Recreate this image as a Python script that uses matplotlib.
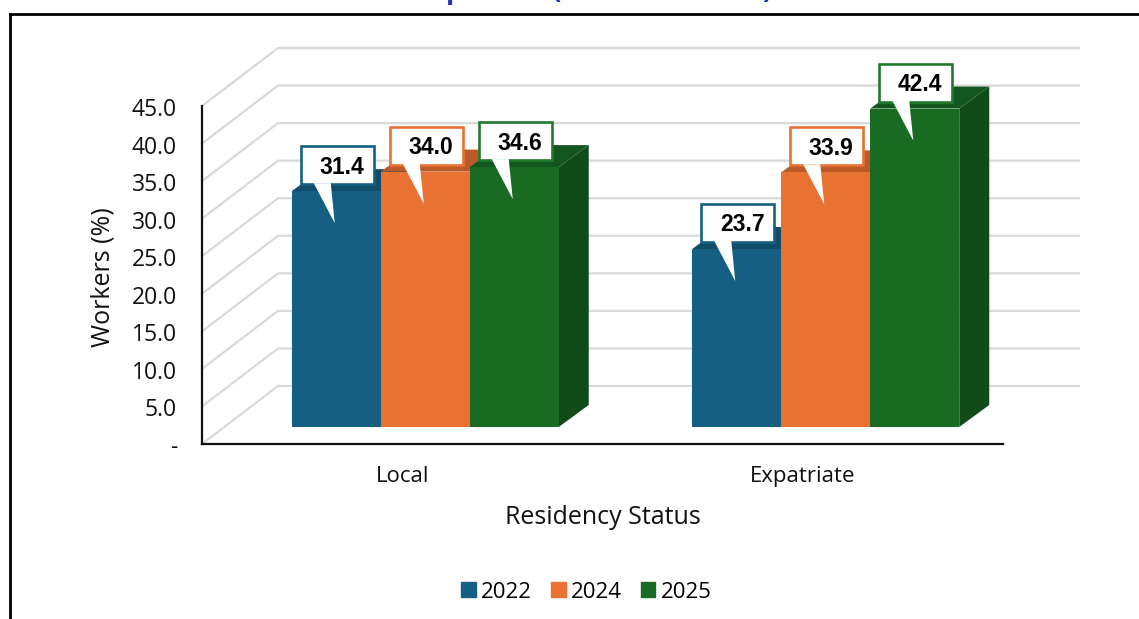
import matplotlib
matplotlib.use("Agg")
from matplotlib import pyplot as plt
from matplotlib.lines import Line2D
from matplotlib.patches import Patch, Polygon
from matplotlib.transforms import Affine2D

categories = ["Local", "Expatriate"]
years = ["2022", "2024", "2025"]
values_2022 = [31.4, 23.7]
values_2024 = [34.0, 33.9]
values_2025 = [34.6, 42.4]
y_ticks = [0, 5, 10, 15, 20, 25, 30, 35, 40, 45]
y_tick_labels = ["-", "5.0", "10.0", "15.0", "20.0", "25.0", "30.0", "35.0", "40.0", "45.0"]

W, H = 1139, 619
FONT = "Open Sans"
FRONT = ["#156082", "#E97132", "#196B24"]
TOP = ["#114D68", "#BA5A28", "#145620"]
SIDE = ["#0F435B", "#A34F23", "#114B19"]
BORDER = ["#156082", "#E97132", "#217A2E"]

# wall depth and bar placement, in axis units (axis spans 801 x 338 px)
WALL_DX, WALL_DY = 76 / 400.5, 58 / 7.51
BAR_DX, BAR_DY = 23 / 400.5, 17 / 7.51
DEPTH_DX, DEPTH_DY = 30 / 400.5, 22 / 7.51
BAR_W = 89 / 400.5


def px(x, y):
    return x / W, 1 - y / H


def main():
    fig = plt.figure(figsize=(W / 100, H / 100), dpi=100)
    ax = fig.add_axes([202 / W, 1 - 444 / H, 801 / W, 338 / H])
    ax.set_xlim(0, 2)
    ax.set_ylim(0, 45)

    # outer frame, runs off the picture
    fig.add_artist(Line2D([10 / W, 10 / W], [0, 1 - 14 / H], color="black", lw=2))
    fig.add_artist(Line2D([10 / W, 1], [1 - 14 / H, 1 - 14 / H], color="black", lw=2))

    # what is left of the title, cut by the top edge
    for ch, x in [("p", 455), ("(", 557), (")", 767)]:
        fig.text(*px(x, -2), ch, color="#2233C4", fontsize=20, fontweight="bold",
                 family=FONT, ha="center", va="baseline")

    # floor and back wall gridlines
    for t in y_ticks:
        ax.plot([0, WALL_DX, 2 + WALL_DX], [t, t + WALL_DY, t + WALL_DY],
                color="#D9D9D9", lw=1.6, clip_on=False, zorder=1)

    series = [values_2022, values_2024, values_2025]
    for i, vals in enumerate(series):
        for j, v in enumerate(vals):
            left = j + 0.5 + BAR_DX - 1.5 * BAR_W + i * BAR_W
            right = left + BAR_W
            bottom = BAR_DY
            top = bottom + v
            z = 3 + i
            ax.fill([right, right + DEPTH_DX, right + DEPTH_DX, right],
                    [bottom, bottom + DEPTH_DY, top + DEPTH_DY, top],
                    color=SIDE[i], lw=0, clip_on=False, zorder=z)
            ax.fill([left, left + DEPTH_DX, right + DEPTH_DX, right],
                    [top, top + DEPTH_DY, top + DEPTH_DY, top],
                    color=TOP[i], lw=0, clip_on=False, zorder=z)
            ax.bar(left, v, BAR_W, bottom=bottom, align="edge", color=FRONT[i],
                   clip_on=False, zorder=z)

    # callouts go above all bars, shapes given in px from the bar's top left
    box = [(9, 45), (82, 45), (82, 7), (9, 7)]
    tail = [(22, 8), (39, 8), (43, -32)]
    for i, vals in enumerate(series):
        for j, v in enumerate(vals):
            left = j + 0.5 + BAR_DX - 1.5 * BAR_W + i * BAR_W
            ax_x, ax_y = ax.transData.transform((left, BAR_DY + v))
            tr = Affine2D().translate(ax_x, ax_y)
            fig.add_artist(Polygon(box, closed=True, facecolor="white",
                                   edgecolor=BORDER[i], lw=1.9, joinstyle="miter",
                                   transform=tr, zorder=10))
            fig.add_artist(Polygon(tail, closed=True, facecolor="white",
                                   edgecolor="none", transform=tr, zorder=10.5))
            fig.text((ax_x + 50) / W, (ax_y + 24) / H, "%.1f" % v, color="black",
                     fontsize=16.5, fontweight="bold", family="Liberation Sans",
                     ha="center", va="center", zorder=11)

    ax.set_xticks([0.5, 1.5])
    ax.set_xticklabels(categories, family=FONT, fontsize=16)
    ax.set_yticks(y_ticks)
    ax.set_yticklabels(y_tick_labels, family=FONT, fontsize=16.5)
    ax.tick_params(axis="x", length=0, pad=15.5, colors="#111111")
    ax.tick_params(axis="y", length=0, pad=18, colors="#111111")
    for lab in ax.get_yticklabels():
        lab.set_transform(lab.get_transform() + Affine2D().translate(0, -1))
    for s in ["top", "right"]:
        ax.spines[s].set_visible(False)
    for s in ["left", "bottom"]:
        ax.spines[s].set_linewidth(1.6)
        ax.spines[s].set_color("#111111")
        ax.spines[s].set_zorder(2)
    ax.patch.set_alpha(0)

    fig.text(*px(103, 277), "Workers (%)", rotation=90, family=FONT, fontsize=18,
             color="#111111", ha="center", va="center")
    fig.text(*px(603, 517), "Residency Status", family=FONT, fontsize=18,
             color="#111111", ha="center", va="center")

    handles = [Patch(color=c, label=y) for c, y in zip(FRONT, years)]
    fig.legend(handles=handles, loc="center", bbox_to_anchor=px(586.5, 592), ncol=3,
               frameon=False, prop={"family": FONT, "size": 16}, handlelength=0.65,
               handleheight=0.65, handletextpad=0.25, columnspacing=0.85, borderpad=0)

    fig.savefig("out.png", dpi=100)


if __name__ == "__main__":
    main()
